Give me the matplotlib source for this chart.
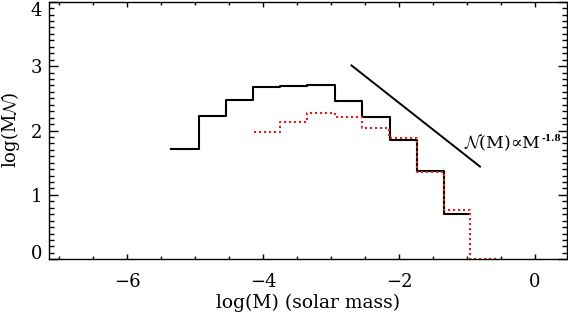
import matplotlib
matplotlib.use("Agg")
import matplotlib.pyplot as plt
from matplotlib.ticker import MultipleLocator

plt.rcParams['font.family'] = ['DejaVu Serif']
plt.rcParams['mathtext.fontset'] = 'custom'
plt.rcParams['mathtext.rm'] = 'DejaVu Serif'
plt.rcParams['mathtext.it'] = 'DejaVu Serif:italic'
plt.rcParams['mathtext.cal'] = 'cmsy10'

# black histogram (solid)
black_edges = [-5.35, -4.95, -4.54, -4.15, -3.75, -3.35, -2.94, -2.54, -2.14, -1.74, -1.34, -0.95]
black_vals = [1.72, 2.23, 2.47, 2.68, 2.69, 2.70, 2.46, 2.21, 1.85, 1.37, 0.70]

# red histogram (dotted)
red_edges = [-4.14, -3.75, -3.35, -2.94, -2.54, -2.15, -1.74, -1.34, -0.95, -0.56]
red_vals = [1.98, 2.13, 2.27, 2.21, 2.04, 1.89, 1.35, 0.77, 0.0]

# power-law guide line
pl_x = [-2.70, -0.81]
pl_y = [3.01, 1.44]

fig = plt.figure(figsize=(5.68, 3.14), dpi=100)
ax = fig.add_axes([49/568, 1-259.3/314, (567-49)/568, (259.3-1.7)/314])

ax.step(black_edges, black_vals + [black_vals[-1]], where='post', color='black', lw=1.5)
ax.step(red_edges, red_vals + [red_vals[-1]], where='post', color='#d92020', lw=1.5,
        linestyle=(0, (1, 1.4)))
ax.plot(pl_x, pl_y, color='black', lw=1.4)

main = ax.text(-1.04, 1.81, r'$\mathcal{N}$(M)' + '\u221dM', fontsize=12.5,
               ha='left', va='center')
ax.annotate('-1.8', xy=(1, 1), xycoords=main, xytext=(0.5, -1), textcoords='offset points',
            fontsize=6.5, fontweight='bold', ha='left', va='top')

ax.set_xlim(-7.15, 0.47)
ax.set_ylim(0, 4)
ax.xaxis.set_major_locator(MultipleLocator(2))
ax.xaxis.set_minor_locator(MultipleLocator(0.5))
ax.yaxis.set_major_locator(MultipleLocator(1))
ax.yaxis.set_minor_locator(MultipleLocator(0.1))

ax.tick_params(axis='both', which='both', direction='in', top=True, right=True, labelsize=13)
ax.tick_params(axis='x', which='major', length=3.8, width=1)
ax.tick_params(axis='x', which='minor', length=2, width=1)
ax.tick_params(axis='y', which='major', length=6.5, width=1)
ax.tick_params(axis='y', which='minor', length=3.6, width=1)
ax.tick_params(axis='x', pad=10)
ax.tick_params(axis='y', pad=5)
for s in ax.spines.values():
    s.set_linewidth(1.0)

fig.canvas.draw()
for t in ax.get_yticklabels():
    if t.get_text() == '4':
        t.set_va('top')
    elif t.get_text() == '0':
        t.set_va('baseline')

ax.set_xlabel('log(M) (solar mass)', fontsize=13.5, labelpad=2)
ax.set_ylabel(r'log(M$\mathcal{N}$)', fontsize=13, labelpad=6)

fig.savefig('out.png', dpi=100)
